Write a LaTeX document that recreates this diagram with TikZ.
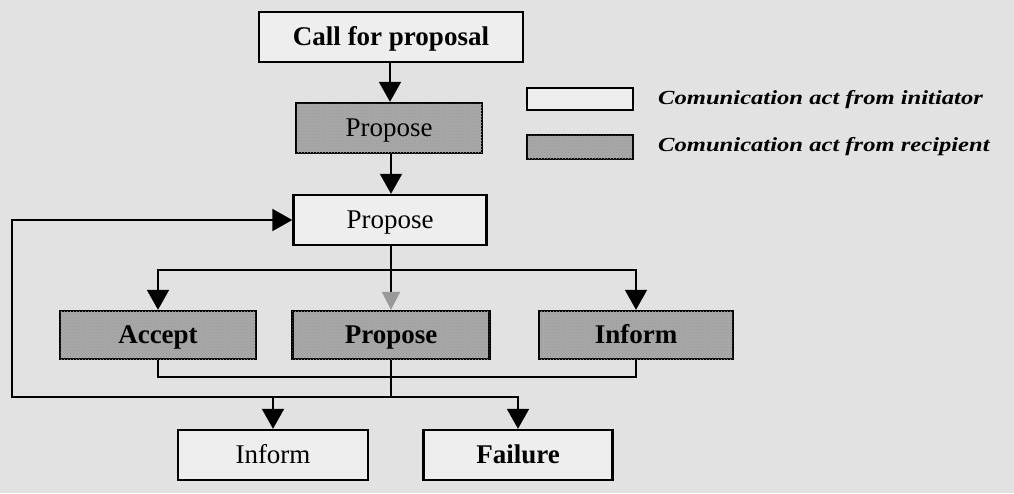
\documentclass[tikz,border=0pt]{standalone}
\usepackage{fontspec}
\setmainfont{Liberation Serif}
\usetikzlibrary{arrows.meta,patterns}
\definecolor{paper}{RGB}{226,226,226}
\definecolor{boxwhite}{RGB}{238,238,238}
\definecolor{boxgray}{RGB}{168,168,168}
\begin{document}
\begin{tikzpicture}[x=1pt,y=-1pt,
  act/.style={draw=black, line width=2.4pt, fill=boxwhite, minimum height=50pt,
    inner sep=0pt, text height=19pt, text depth=3pt,
    font=\fontsize{27}{30}\selectfont},
  recip/.style={act, fill=boxgray,
    postaction={pattern=crosshatch dots, pattern color=black!40}},
  boldtext/.style={font=\fontsize{27}{30}\selectfont\bfseries},
  link/.style={line width=2pt},
  tip/.style={link, -{Triangle[length=20pt,width=22pt]}},
  fainttip/.style={link, -{Triangle[length=18pt,width=18pt,color=black!40]}},
  legendtext/.style={anchor=west, inner sep=0pt,
    font=\fontsize{20}{22}\selectfont\bfseries\itshape},
]
\useasboundingbox (0,0) rectangle (1014,493);
\fill[paper] (0,0) rectangle (1014,493);

% main flow
\node[act, boldtext, minimum width=264pt] (cfp) at (391,37) {Call for proposal};
\node[recip, minimum width=186pt] (p1) at (389,128) {Propose};
\node[act, minimum width=193pt] (p2) at (390,220) {Propose};

% responses
\node[recip, boldtext, minimum width=196pt, minimum height=48pt] (acc) at (158,335) {Accept};
\node[recip, boldtext, minimum width=197pt, minimum height=48pt] (p3) at (391,335) {Propose};
\node[recip, boldtext, minimum width=194pt, minimum height=48pt] (inf1) at (636,335) {Inform};

% outcomes
\node[act, minimum width=190pt] (inf2) at (273,455) {Inform};
\node[act, boldtext, minimum width=189pt] (fail) at (518,455) {Failure};

% legend
\node[act, minimum width=106pt, minimum height=22pt, text height=0pt, text depth=0pt] (lgw) at (580,99) {};
\node[recip, minimum width=106pt, minimum height=24pt, text height=0pt, text depth=0pt] (lgs) at (580,147) {};
\node[legendtext] (lgwt) at (658,100) {\scalebox{1.23}[1]{Comunication act from initiator}};
\node[legendtext] (lgst) at (658,147) {\scalebox{1.23}[1]{Comunication act from recipient}};

% junction points
\coordinate (j1) at (p3.north |- 0,270);
\coordinate (j2) at (p3.south |- 0,377);
\coordinate (j3) at (p3.south |- 0,397);
\coordinate (loop) at (12,397);

% connectors
\draw[tip] (cfp.south -| 390,0) -- (p1.north -| 390,0);
\draw[tip] (p1.south -| 391,0) -- (p2.north -| 391,0);
\draw[link] (p2.south -| j1) -- (j1);
\draw[tip] (j1) -| (acc.north);
\draw[tip] (j1) -| (inf1.north);
\draw[fainttip] (j1) -- (p3.north);

\draw[link] (acc.south) |- (j2) -| (inf1.south);
\draw[link] (p3.south) -- (j3);
\draw[tip] (j3) -- (loop) |- (p2.west);
\draw[tip] (j3) -| (fail.north);
\draw[tip] (inf2.north |- j3) -- (inf2.north);
\end{tikzpicture}
\end{document}
